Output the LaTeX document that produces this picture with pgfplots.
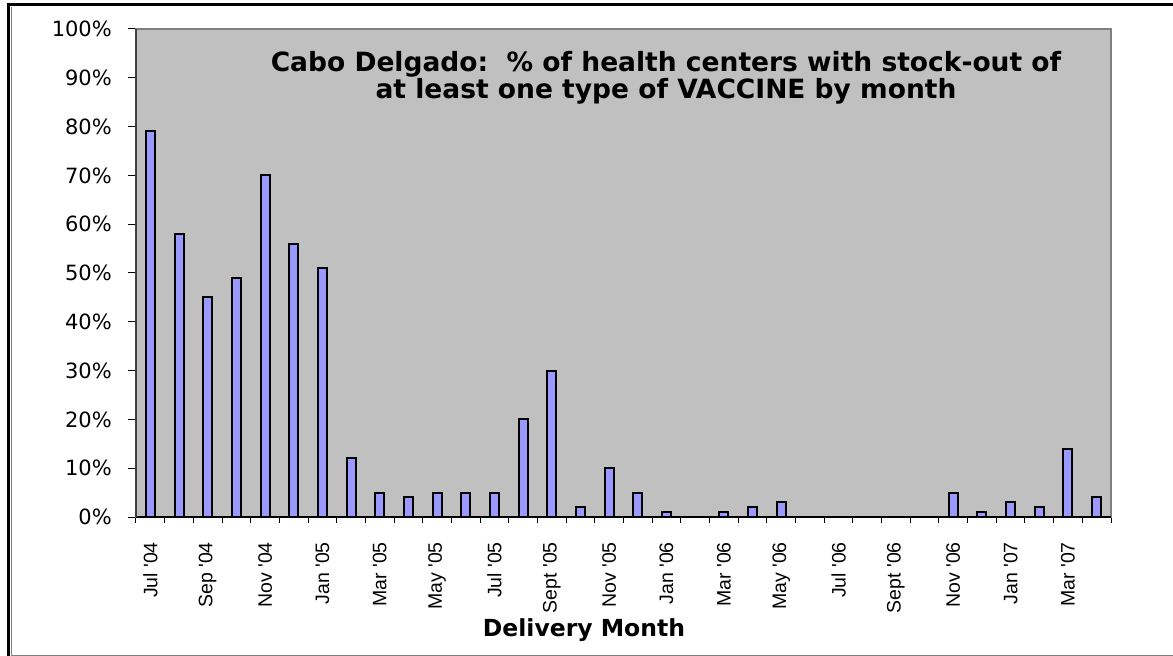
\documentclass[border=0pt]{standalone}
\usepackage{fontspec}
\setmainfont{DejaVu Sans}
\newfontfamily\arialf{Liberation Sans}
\usepackage{pgfplots}
\pgfplotsset{compat=1.18}
\definecolor{barblue}{HTML}{9999FF}
\definecolor{plotgray}{HTML}{C0C0C0}
\definecolor{bordergray}{HTML}{808080}
\begin{document}
\begin{tikzpicture}[x=1pt,y=1pt]
\useasboundingbox (-136,-139) rectangle (1037,517);
\fill[white] (-136,-139) rectangle (1037,517);
\begin{axis}[
  at={(0,0)}, anchor=south west,
  scale only axis, width=975pt, height=488pt,
  ybar,
  xmin=-0.5, xmax=33.5, ymin=0, ymax=100,
  axis background/.style={fill=plotgray},
  axis line style={draw=bordergray, line width=1.2pt},
  tick align=outside, tick pos=left,
  ytick={0,10,...,100},
  yticklabels={0\%,10\%,20\%,30\%,40\%,50\%,60\%,70\%,80\%,90\%,100\%},
  major tick length=8pt,
  ytick style={draw=black, line width=1pt},
  yticklabel style={font=\fontsize{21}{21}\selectfont, anchor=east, inner sep=0pt, xshift=-16pt},
  xtick={0,2,...,32},
  xticklabels={Jul \textquotesingle04,Sep \textquotesingle04,Nov \textquotesingle04,Jan \textquotesingle05,Mar \textquotesingle05,May \textquotesingle05,Jul \textquotesingle05,Sept \textquotesingle05,Nov \textquotesingle05,Jan \textquotesingle06,Mar \textquotesingle06,May \textquotesingle06,Jul \textquotesingle06,Sept \textquotesingle06,Nov \textquotesingle06,Jan \textquotesingle07,Mar \textquotesingle07},
  major x tick style={draw=none},
  minor xtick={-0.5,0.5,...,33.5},
  minor tick length=6pt,
  minor x tick style={draw=black, line width=1pt},
  xticklabel style={yshift=-17pt, rotate=90, anchor=east, inner sep=0pt, font=\arialf\fontsize{19.5}{19.5}\selectfont},
  clip=false,
]
\addplot[ybar, bar width=9pt, fill=barblue, draw=black, line width=2pt] coordinates {
(0,79) (1,58) (2,45) (3,49) (4,70) (5,56) (6,51) (7,12) (8,5) (9,4)
(10,5) (11,5) (12,5) (13,20) (14,30) (15,2) (16,10) (17,5) (18,1) (19,0)
(20,1) (21,2) (22,3) (23,0) (24,0) (25,0) (26,0) (27,0) (28,5) (29,1)
(30,3) (31,2) (32,14) (33,4)
};
\draw[black, line width=1.5pt] (rel axis cs:0,0) -- (rel axis cs:1,0);
\draw[black!75, line width=1.5pt] (rel axis cs:0,0) -- (rel axis cs:0,1);
\end{axis}
\node[anchor=base, font=\bfseries\fontsize{26.5}{26.6}\selectfont] at (530,445) {Cabo Delgado:\ \ \% of health centers with stock-out of};
\node[anchor=base, font=\bfseries\fontsize{26.5}{26.6}\selectfont] at (530,418.7) {at least one type of VACCINE by month};
\node[anchor=base, font=\bfseries\fontsize{23.5}{23.5}\selectfont] at (448,-119) {Delivery Month};
\draw[black, line width=3pt] (-127.5,-139) -- (-127.5,512.5) -- (1037,512.5);
\draw[bordergray, line width=1pt] (-124.5,510) -- (-124.5,-138) -- (1037,-138);
\end{tikzpicture}
\end{document}
